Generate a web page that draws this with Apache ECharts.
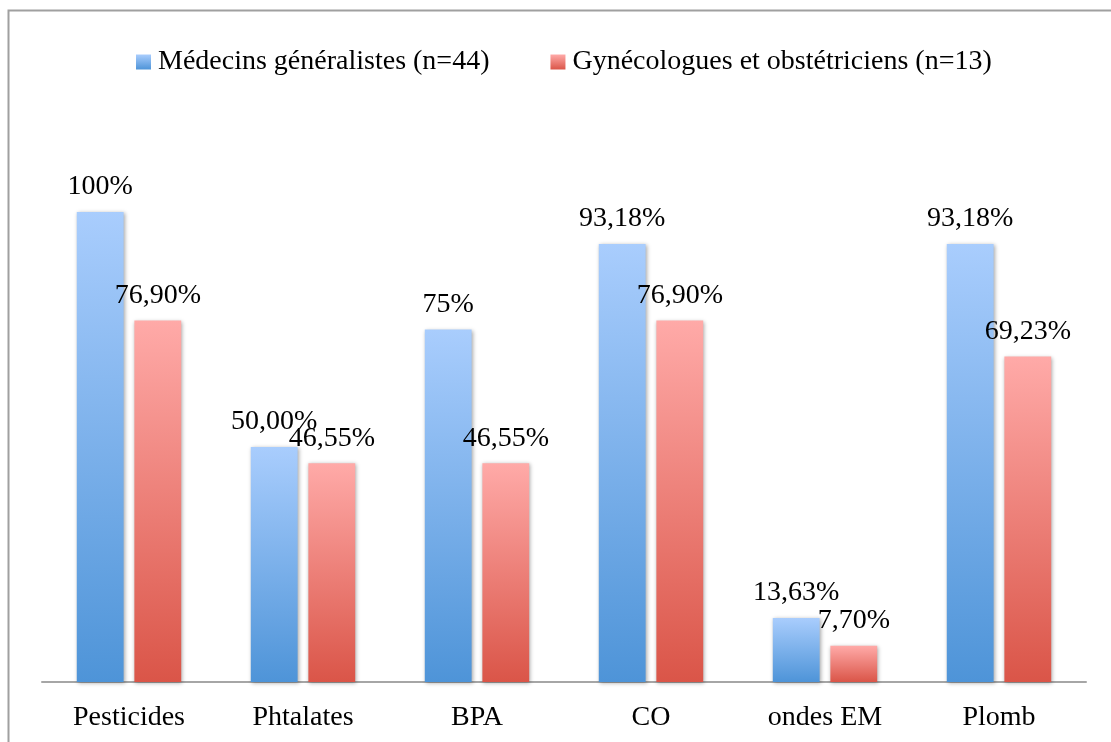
<!DOCTYPE html>
<html lang="fr">
<head>
  <meta charset="utf-8">
  <title>Médecins généralistes vs gynécologues</title>
  <script type="text/javascript" src="https://cdn.jsdelivr.net/npm/echarts@6/dist/echarts.min.js"></script>
  <style type="text/css">
    * {
      margin: 0;
      padding: 0;
    }
    html, body, #chart {
      width: 100%;
      height: 100%;
      overflow: hidden;
      background: #fff;
    }
  </style>
</head>
<body>
  <div id="chart"></div>
  <script type="text/javascript">
    // catégories et valeurs (en %)
    var categories = ['Pesticides', 'Phtalates', 'BPA', 'CO', 'ondes EM', 'Plomb'];
    var seriesNames = ['Médecins généralistes (n=44)', 'Gynécologues et obstétriciens (n=13)'];
    var mgValues = [100, 50.00, 75, 93.18, 13.63, 93.18];
    var goValues = [76.90, 46.55, 46.55, 76.90, 7.70, 69.23];
    // étiquettes telles qu'affichées
    var mgLabels = ['100%', '50,00%', '75%', '93,18%', '13,63%', '93,18%'];
    var goLabels = ['76,90%', '46,55%', '46,55%', '76,90%', '7,70%', '69,23%'];

    var font = 'Liberation Serif';

    function grad(top, bottom) {
      return new echarts.graphic.LinearGradient(0, 0, 0, 1, [
        { offset: 0, color: top },
        { offset: 1, color: bottom }
      ]);
    }

    function barSeries(name, values, labels, top, bottom) {
      return {
        name: name,
        type: 'bar',
        data: values,
        barGap: '23%',
        barCategoryGap: '40%',
        itemStyle: {
          color: grad(top, bottom),
          shadowBlur: 4,
          shadowColor: 'rgba(0,0,0,0.35)',
          shadowOffsetX: 1,
          shadowOffsetY: 1
        },
        label: {
          show: true,
          position: 'top',
          distance: 11,
          fontFamily: font,
          fontSize: 28,
          color: '#000',
          formatter: function (p) { return labels[p.dataIndex]; }
        }
      };
    }

    var option = {
      animation: false,
      legend: {
        top: 48,
        left: 136,
        padding: 0,
        itemWidth: 15,
        itemHeight: 15,
        itemGap: 61,
        icon: 'rect',
        textStyle: { fontFamily: font, fontSize: 28, color: '#000', padding: [0, 0, 0, 2] },
        data: [
          { name: seriesNames[0], itemStyle: { color: grad('#a9cdfd', '#4e94d8') } },
          { name: seriesNames[1], itemStyle: { color: grad('#ffaaa8', '#da5548') } }
        ]
      },
      graphic: [{
        type: 'rect',
        left: 6,
        top: 8,
        shape: { width: 1300, height: 900 },
        style: { fill: 'none', stroke: '#a0a0a0', lineWidth: 2 },
        silent: true
      }],
      grid: { left: 42, right: 25, top: 212, bottom: 60 },
      xAxis: {
        type: 'category',
        data: categories,
        axisLine: { lineStyle: { color: '#a6a6a6', width: 2 } },
        axisTick: { show: false },
        axisLabel: { fontFamily: font, fontSize: 28, color: '#000', margin: 22 }
      },
      yAxis: {
        type: 'value',
        min: 0,
        max: 100,
        show: false
      },
      series: [
        barSeries(seriesNames[0], mgValues, mgLabels, '#a9cdfd', '#4e94d8'),
        barSeries(seriesNames[1], goValues, goLabels, '#ffaaa8', '#da5548')
      ]
    };

    var chart = echarts.init(document.getElementById('chart'));
    chart.setOption(option);
  </script>
</body>
</html>
